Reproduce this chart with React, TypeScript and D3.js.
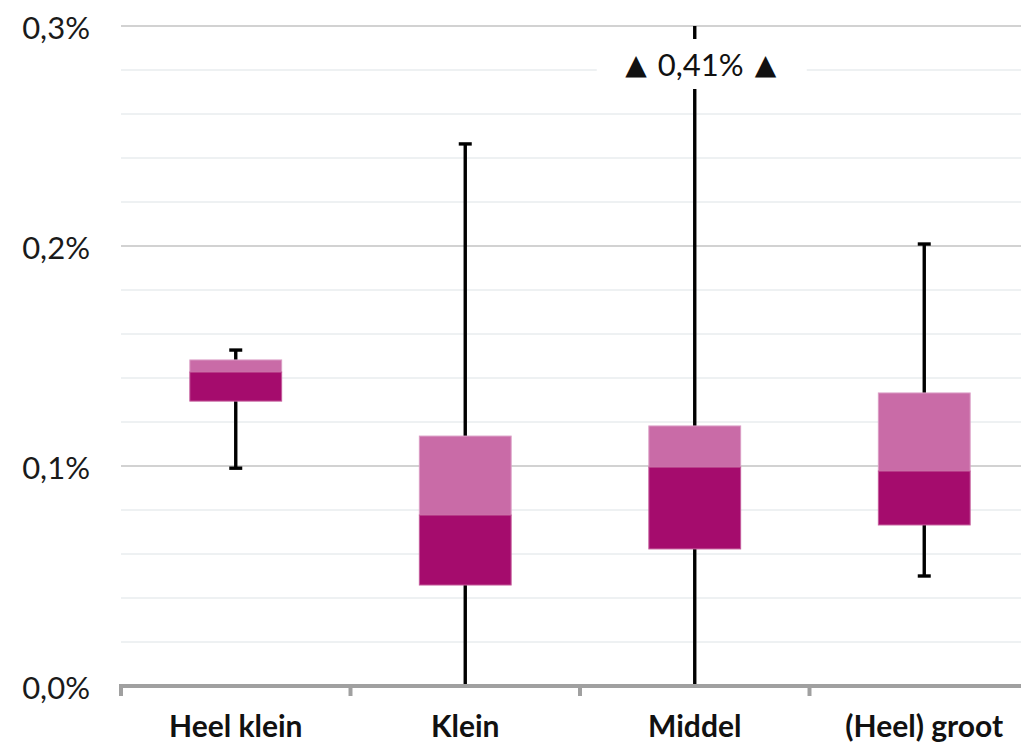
import React from "react";
import * as d3 from "d3";

const categories = ["Heel klein", "Klein", "Middel", "(Heel) groot"];
const minValues = [0.099, 0.0, 0.0, 0.05];
const q1Values = [0.1295, 0.0459, 0.0623, 0.0732];
const medianValues = [0.1427, 0.0777, 0.0995, 0.0977];
const q3Values = [0.1482, 0.1136, 0.1182, 0.1332];
const maxValues = [0.1527, 0.2464, 0.41, 0.2009];
const majorTicks = [0, 0.1, 0.2, 0.3];
const minorTicks = [0.02, 0.04, 0.06, 0.08, 0.12, 0.14, 0.16, 0.18, 0.22, 0.24, 0.26, 0.28];
const annotationValue = "0,41%";

const W = 1021;
const H = 744;
const left = 121;
const right = 1039;
const y0 = 686;
const yTop = 26;

export default function App() {
  const y = d3.scaleLinear().domain([0, 0.3]).range([y0, yTop]);
  const x = d3.scaleBand().domain(categories).range([left, right]).paddingInner(0).paddingOuter(0);
  const bw = x.bandwidth();
  const boxW = bw * 0.4;
  const fmt = (v: number) => d3.format(".1f")(v).replace(".", ",") + "%";
  const clip = (v: number) => Math.min(v, 0.3);
  const boundaries = categories.map((c) => x(c)!).concat([right]);

  return (
    <svg width={W} height={H} style={{ position: "absolute", left: 0, top: 0, background: "#fff" }}>
      <g>
        {minorTicks.map((t) => (
          <line key={"mn" + t} x1={left} x2={W} y1={y(t)} y2={y(t)} stroke="#dde3e6" strokeWidth={1} />
        ))}
        {majorTicks.slice(1).map((t) => (
          <line key={"mj" + t} x1={left} x2={W} y1={y(t)} y2={y(t)} stroke="#a6a6a6" strokeWidth={1.2} />
        ))}
        {majorTicks.map((t) => (
          <text key={"lb" + t} x={90} y={y(t) + 1} textAnchor="end" dominantBaseline="central"
            fontFamily="Lato" fontSize={31} fill="#1a1a1a">{fmt(t)}</text>
        ))}
      </g>
      {categories.map((c, i) => {
        const cx = x(c)! + bw / 2;
        const bx = cx - boxW / 2;
        const hiClipped = maxValues[i] > 0.3;
        return (
          <g key={c}>
            <line x1={cx} x2={cx} y1={y(q3Values[i])} y2={y(clip(maxValues[i]))} stroke="#000" strokeWidth={3.4} />
            <line x1={cx} x2={cx} y1={y(q1Values[i])} y2={y(minValues[i])} stroke="#000" strokeWidth={3.4} />
            {!hiClipped && (
              <line x1={cx - 6.5} x2={cx + 6.5} y1={y(maxValues[i])} y2={y(maxValues[i])} stroke="#000" strokeWidth={3.4} />
            )}
            {minValues[i] > 0 && (
              <line x1={cx - 6.5} x2={cx + 6.5} y1={y(minValues[i])} y2={y(minValues[i])} stroke="#000" strokeWidth={3.4} />
            )}
            <rect x={bx} width={boxW} y={y(q3Values[i])} height={y(medianValues[i]) - y(q3Values[i])}
              fill="#c96ba7" stroke="#da9cc4" strokeWidth={1} />
            <rect x={bx} width={boxW} y={y(medianValues[i])} height={y(q1Values[i]) - y(medianValues[i])}
              fill="#a50c6d" stroke="#c35a9a" strokeWidth={1} />
            {hiClipped && (
              <g>
                <rect x={cx - 98} y={39} width={210} height={50} fill="#fff" />
                <text x={cx + 6} y={64} textAnchor="middle" dominantBaseline="central"
                  fontFamily="Lato" fontSize={31} fill="#111">
                  <tspan fontFamily="DejaVu Sans" fontSize={28}>▲</tspan>
                  <tspan dx={11}>{annotationValue}</tspan>
                  <tspan dx={11} fontFamily="DejaVu Sans" fontSize={28}>▲</tspan>
                </text>
              </g>
            )}
            <text x={cx} y={725} textAnchor="middle" dominantBaseline="central"
              fontFamily="Lato" fontWeight="bold" fontSize={30} fill="#111">{c}</text>
          </g>
        );
      })}
      <line x1={left - 2} x2={W} y1={y0} y2={y0} stroke="#a0a0a0" strokeWidth={4} />
      {boundaries.map((b, i) => (
        <line key={"tk" + i} x1={b} x2={b} y1={y0} y2={y0 + 10} stroke="#a0a0a0" strokeWidth={4} />
      ))}
    </svg>
  );
}
